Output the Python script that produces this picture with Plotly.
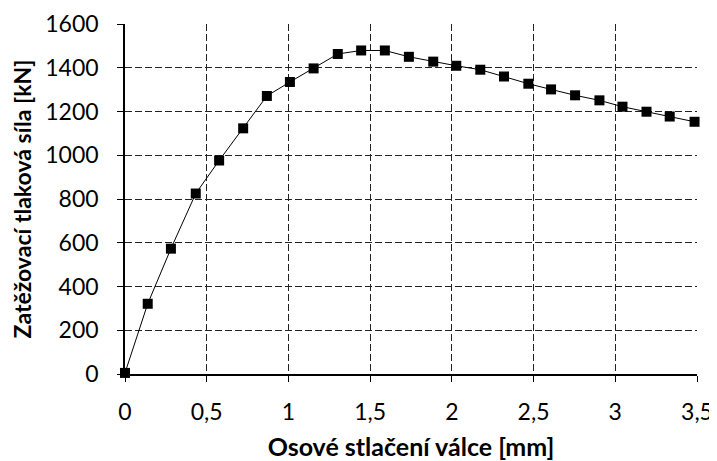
import plotly.graph_objects as go

displacement_mm = [0.0, 0.139, 0.281, 0.433, 0.576, 0.723, 0.868, 1.009, 1.154, 1.302,
                   1.445, 1.590, 1.737, 1.886, 2.027, 2.174, 2.319, 2.468, 2.607, 2.754,
                   2.903, 3.044, 3.191, 3.333, 3.485]
force_kN = [5, 321, 573, 825, 976, 1123, 1271, 1335, 1397, 1463,
            1479, 1479, 1450, 1428, 1409, 1391, 1360, 1327, 1301, 1274,
            1251, 1222, 1199, 1177, 1153]

x_ticks = [0, 0.5, 1, 1.5, 2, 2.5, 3, 3.5]
x_tick_labels = ["0", "0,5", "1", "1,5", "2", "2,5", "3", "3,5"]
y_ticks = [0, 200, 400, 600, 800, 1000, 1200, 1400, 1600]

FONT = "Lato"

fig = go.Figure()
fig.add_trace(go.Scatter(
    x=displacement_mm, y=force_kN, mode="lines+markers",
    line=dict(color="black", width=1),
    marker=dict(symbol="square", size=10, color="black"),
    showlegend=False,
    cliponaxis=False,
))

fig.update_layout(
    width=709, height=453,
    margin=dict(l=117, r=20, t=16, b=87, autoexpand=False),
    paper_bgcolor="white", plot_bgcolor="white",
    font=dict(family=FONT, size=23, color="black"),
)
fig.update_xaxes(
    range=[0, 3.5], tickvals=x_ticks, ticktext=x_tick_labels,
    showline=True, linecolor="black", linewidth=1.5,
    ticks="outside", ticklen=6, tickcolor="black", tickwidth=1,
    ticklabelstandoff=11, automargin=False,
    showgrid=True, gridcolor="#222", griddash="7px,3px", gridwidth=1,
    zeroline=False,
    title=dict(text="<b>Osové stlačení válce [mm]</b>", font=dict(family=FONT, size=25), standoff=17),
)
fig.update_yaxes(
    range=[0, 1600], tickvals=y_ticks,
    showline=True, linecolor="black", linewidth=1.5,
    ticks="outside", ticklen=6, tickcolor="black", tickwidth=1,
    ticklabelstandoff=14, automargin=False,
    showgrid=True, gridcolor="#222", griddash="7px,3px", gridwidth=1,
    zeroline=False,
    title=dict(text="<b>Zatěžovací tlaková síla [kN]</b>", font=dict(family=FONT, size=23), standoff=10),
)

fig.write_html("out.html")
